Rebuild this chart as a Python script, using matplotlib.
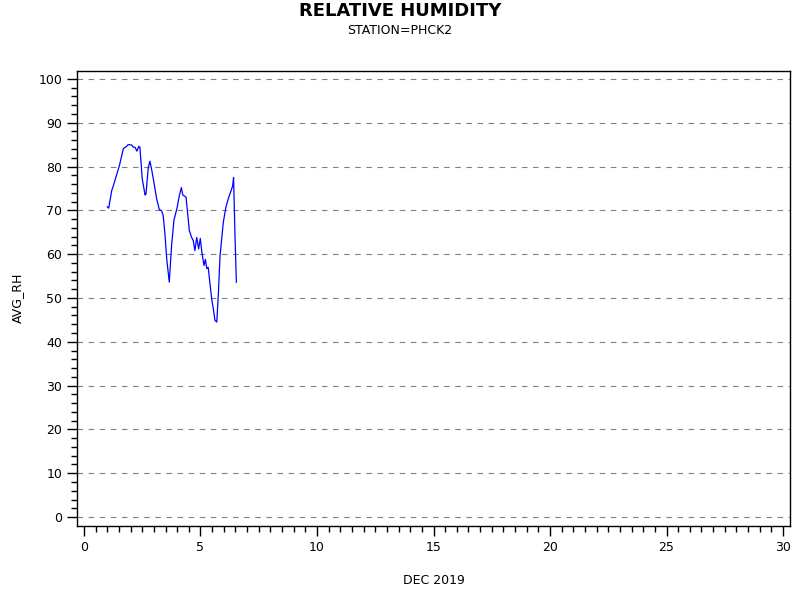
import numpy as np
import matplotlib
matplotlib.use('Agg')
import matplotlib.pyplot as plt

# =========================================
# Data
# =========================================
day = [1.00, 1.06, 1.19, 1.26, 1.40, 1.52, 1.62, 1.69, 1.80, 1.90, 2.05, 2.12,
       2.19, 2.27, 2.35, 2.40, 2.50, 2.62, 2.66, 2.76, 2.83, 2.90, 3.00, 3.12,
       3.23, 3.33, 3.40, 3.48, 3.55, 3.66, 3.76, 3.86, 4.00, 4.09, 4.18, 4.24,
       4.38, 4.43, 4.52, 4.62, 4.69, 4.76, 4.84, 4.92, 4.99, 5.06, 5.15, 5.21,
       5.27, 5.33, 5.48, 5.55, 5.62, 5.70, 5.77, 5.84, 5.98, 6.09, 6.19, 6.34,
       6.38, 6.42, 6.48, 6.54]
avg_rh = [70.8, 70.5, 74.5, 75.6, 78.1, 80.2, 82.5, 84.1, 84.5, 85.0, 84.9, 84.4,
          84.4, 83.5, 84.6, 84.4, 77.2, 73.5, 73.7, 79.8, 81.2, 79.4, 76.4, 72.6,
          70.2, 69.9, 68.8, 64.2, 58.9, 53.6, 62.0, 67.7, 70.7, 73.3, 75.2, 73.5,
          73.0, 70.3, 65.4, 63.8, 63.1, 60.8, 63.8, 61.2, 63.6, 60.4, 57.4, 58.8,
          56.7, 57.0, 49.8, 47.5, 44.9, 44.5, 51.3, 59.7, 67.3, 70.7, 72.6, 74.9,
          75.6, 77.5, 64.2, 53.6]

x_ticks = [0, 5, 10, 15, 20, 25, 30]
y_ticks = [0, 10, 20, 30, 40, 50, 60, 70, 80, 90, 100]

# =========================================
# Plot
# =========================================
plt.rcParams['font.family'] = 'DejaVu Sans'

fig = plt.figure(figsize=(8, 6), dpi=100)
ax = fig.add_axes([0.09625, 0.1233, 0.89125, 0.7584])

ax.plot(day, avg_rh, color='blue', linewidth=0.9)

ax.set_xlim(-0.3, 30.3)
ax.set_ylim(-2.05, 101.8)
ax.set_xticks(x_ticks)
ax.set_yticks(y_ticks)
ax.set_xticks(np.arange(0, 30.01, 0.5), minor=True)
ax.set_yticks(np.arange(0, 100.01, 2), minor=True)
ax.tick_params(which='major', direction='out', length=7, width=1, labelsize=9)
ax.tick_params(which='minor', direction='out', length=4, width=1)

for y in y_ticks:
    ax.axhline(y, color='gray', linestyle=(0, (5, 5)), linewidth=0.8, zorder=0)

for s in ax.spines.values():
    s.set_linewidth(1)

# axis labels placed in figure coords like the reference
fig.text(434 / 800, 1 - 581 / 600, 'DEC 2019', ha='center', va='center', fontsize=9)
fig.text(17 / 800, 1 - 298 / 600, 'AVG_RH', ha='center', va='center',
         rotation=90, fontsize=9)

fig.text(0.5, 0.981, 'RELATIVE HUMIDITY', ha='center', va='center',
         fontsize=13, fontweight='bold')
fig.text(0.5, 0.95, 'STATION=PHCK2', ha='center', va='center', fontsize=9)

fig.savefig('out.png', dpi=100)
